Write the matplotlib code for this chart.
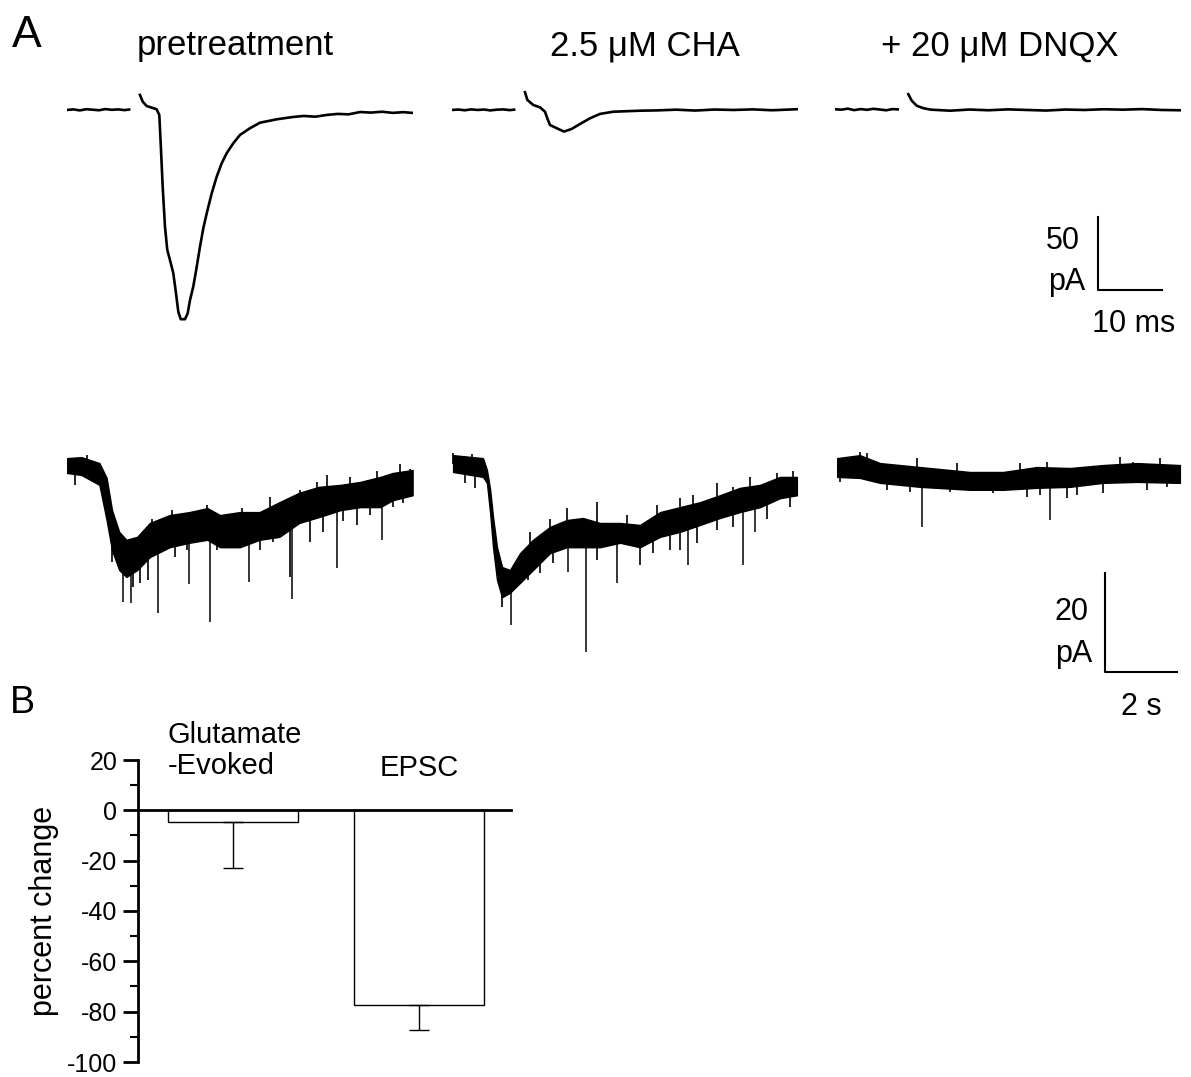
"""Panel A: evoked EPSCs and glutamate-evoked currents; panel B: percent change bars."""

import matplotlib

matplotlib.use("Agg", force=True)
import matplotlib.pyplot as plt
import numpy as np
from matplotlib.ticker import MultipleLocator

plt.rcParams["font.family"] = ["Liberation Sans", "DejaVu Sans"]
plt.rcParams["axes.unicode_minus"] = False

W, H = 1191, 1077

# ---- panel A, top row: evoked EPSCs (ms, pA) ----
titles = ["pretreatment", "2.5 \u03bcM CHA", "+ 20 \u03bcM DNQX"]

pre_base_t = [0, 1, 2, 3, 4, 5, 6, 7, 8, 9, 9.7]
pre_base_i = [0, 0.4, -0.3, 0.5, 0.2, -0.2, 0.6, 0.1, 0.4, -0.1, 0.3]
pre_evk_t = [11.4, 11.83, 12.45, 14.0, 14.42, 14.64, 14.95, 15.31, 15.67, 16.09, 16.61,
             17.03, 17.39, 17.77, 18.44, 18.86, 19.22, 19.73, 20.27, 20.78, 21.3,
             21.83, 22.61, 23.39, 24.17, 24.95, 25.98, 27.03, 28.59, 30.16, 32.77,
             35.3, 37.0, 38.8, 40.6, 42.3, 44.0, 45.8, 47.5, 49.2, 50.9, 52.5, 54.0]
pre_evk_i = [10.3, 5.7, 2.7, 0.5, -3.4, -22.8, -52.5, -80.0, -95.9, -102.8, -111.8,
             -125.5, -138.2, -143.3, -143.3, -139.2, -130.2, -121.0, -107.4, -93.6, -81.0,
             -70.8, -57.1, -45.7, -36.5, -29.6, -22.8, -17.1, -12.5, -8.7, -6.4,
             -4.8, -4.1, -4.6, -3.4, -2.7, -3.0, -1.4, -1.8, -1.2, -2.0, -1.5, -2.0]

cha_base_t = [0, 1, 2, 3, 4, 5, 6, 7, 8, 9, 9.7]
cha_base_i = [0, 0.3, -0.2, 0.4, 0, 0.3, -0.3, 0.2, 0.4, -0.1, 0.2]
cha_evk_t = [11.41, 11.77, 12.7, 13.75, 14.53, 14.89, 15.31, 16.36, 17.5, 18.7, 20.0,
             21.56, 23.13, 25.2, 29.4, 32, 35, 38, 41, 44, 47, 50, 53.9]
cha_evk_i = [12.1, 6.9, 3.4, 1.8, -1.2, -5.7, -10.3, -12.5, -14.8, -13.0, -9.6,
             -5.7, -2.7, -1.2, -0.5, -0.3, 0.2, -0.4, 0.3, 0, 0.4, -0.2, 0.5]

dnqx_base_t = [0, 1, 2, 3, 4, 5, 6, 7, 8, 9, 9.8]
dnqx_base_i = [0.5, 0.2, 0.9, -0.1, 0.6, 0.1, 0.8, 0.3, -0.2, 0.6, 0.4]
dnqx_evk_t = [11.45, 11.98, 12.77, 13.8, 15, 18, 21, 24, 27, 30, 33, 36, 39, 42, 45,
              48, 51, 53.9]
dnqx_evk_i = [10.8, 6.4, 2.9, 1.2, 0.2, -0.5, 0.3, -0.2, 0.4, 0, -0.4, 0.3, 0, 0.5,
              0.2, 0.6, 0, -0.2]

# ---- panel A, bottom row: glutamate-evoked currents (s, pA) ----
# noise band (upper / lower edge), large events, small up/down excursions
pre_glu_t = [0.0, 0.4, 0.9, 1.1, 1.25, 1.45, 1.65, 1.95, 2.3, 2.85, 3.4, 3.9, 4.25,
             4.8, 5.35, 5.9, 6.45, 7.0, 7.6, 8.15, 8.7, 9.05, 9.6]
pre_glu_hi = [2.4, 2.6, 1.4, -1.6, -8.1, -12.5, -14.1, -13.5, -10.7, -9.1, -8.5, -7.7,
              -9.1, -8.5, -8.5, -6.5, -4.6, -3.4, -3.0, -2.4, -1.4, -0.6, 0.0]
pre_glu_lo = [-0.6, -1.0, -3.0, -10.1, -16.2, -20.2, -21.6, -20.2, -17.6, -15.6, -14.7,
              -14.1, -15.6, -15.6, -14.1, -13.5, -10.7, -9.5, -8.1, -7.5, -7.5, -6.1, -5.1]
pre_spk_t = [1.56, 1.78, 2.53, 3.39, 3.97, 5.06, 6.25, 7.5, 8.75]
pre_spk_i = [-26.7, -26.9, -28.9, -23.0, -30.7, -22.6, -26.1, -19.8, -14.1]
pre_dn_t = [0.22, 1.24, 1.84, 2.03, 2.26, 2.58, 3.0, 3.32, 3.69, 4.16, 4.62, 4.85,
            5.36, 5.73, 6.19, 6.75, 7.12, 7.68, 8.05, 8.42, 9.06, 9.34]
pre_dn_i = [-3.0, -18.5, -23.6, -22.9, -22.2, -16.2, -17.5, -16.2, -14.1, -16.2, -15.5,
            -14.8, -16.2, -14.5, -21.6, -14.5, -12.5, -10.4, -11.1, -9.1, -7.4, -6.7]
pre_up_t = [0.55, 2.35, 2.91, 3.88, 4.85, 5.64, 6.19, 6.47, 6.94, 7.21, 7.86, 8.6,
            9.25, 9.53]
pre_up_i = [3.0, -9.8, -8.1, -7.1, -7.7, -5.4, -5.7, -4.0, -2.4, -1.0, -1.4, -0.3,
            1.2, 0.3]

cha_glu_t = [0.03, 0.86, 0.97, 1.06, 1.14, 1.25, 1.39, 1.61, 1.89, 2.25, 2.72, 3.19,
             3.64, 4.11, 4.67, 5.22, 5.78, 6.33, 6.89, 7.44, 8.0, 8.56, 9.11, 9.58]
cha_glu_hi = [3.0, 2.4, 0.0, -4.0, -9.5, -15.6, -19.6, -20.2, -16.8, -14.1, -11.5, -10.1,
              -9.7, -10.7, -10.7, -11.1, -8.5, -7.5, -6.5, -5.1, -3.6, -3.0, -1.4, -1.4]
cha_glu_lo = [-0.4, -1.4, -2.6, -8.7, -15.6, -22.2, -25.7, -24.8, -22.8, -20.2, -16.8,
              -15.6, -15.6, -15.6, -14.7, -15.6, -13.5, -12.5, -11.1, -9.7, -8.5, -7.5,
              -5.7, -5.1]
cha_spk_t = [1.64, 3.22, 3.72, 4.58, 6.56, 8.08, 8.42]
cha_spk_i = [-31.3, -20.6, -36.8, -22.8, -19.2, -19.2, -12.5]
cha_dn_t = [0.36, 0.64, 1.38, 1.8, 2.12, 2.44, 2.81, 4.02, 5.22, 5.59, 6.06, 6.33,
            6.8, 7.35, 7.81, 8.74, 9.39]
cha_dn_i = [-2.7, -3.7, -27.6, -23.6, -22.2, -20.9, -18.8, -18.2, -19.2, -16.8, -16.2,
            -16.2, -14.8, -12.1, -11.5, -9.8, -7.4]
cha_up_t = [0.04, 0.55, 2.17, 2.72, 3.19, 4.02, 4.85, 5.69, 6.33, 6.7, 7.35, 7.81,
            8.28, 9.02, 9.48]
cha_up_i = [3.4, 3.2, -12.5, -9.8, -7.7, -6.4, -9.1, -7.1, -5.7, -5.1, -2.7, -3.4,
            -1.4, -0.7, -0.3]

dnqx_glu_t = [0.06, 0.69, 1.25, 2.36, 3.75, 4.67, 5.61, 6.53, 7.44, 8.39, 9.58]
dnqx_glu_hi = [2.4, 3.0, 1.4, 0.6, -0.4, -0.4, 0.6, 0.4, 1.0, 1.4, 1.0]
dnqx_glu_lo = [-1.4, -1.6, -2.6, -3.4, -4.0, -4.0, -3.6, -3.4, -2.6, -2.4, -2.6]
dnqx_spk_t = [2.42, 5.97]
dnqx_spk_i = [-11.5, -10.1]
dnqx_dn_t = [0.14, 1.44, 2.08, 3.19, 4.4, 5.32, 5.69, 6.44, 6.71, 7.45, 8.66, 9.21]
dnqx_dn_i = [-2.4, -4.0, -4.4, -4.4, -4.7, -5.4, -5.1, -5.7, -5.1, -4.7, -4.0, -3.4]
dnqx_up_t = [0.69, 0.88, 2.27, 3.38, 5.14, 5.88, 7.92, 8.29, 9.03]
dnqx_up_i = [3.7, 3.4, 2.4, 1.4, 1.4, 1.7, 2.7, 1.7, 2.4]

# scale bars
top_bar_pa, top_bar_ms = 50, 10
bot_bar_pa, bot_bar_s = 20, 2

# ---- panel B ----
categories = ["Glutamate\n-Evoked", "EPSC"]
pct_change = [-4.7, -77.5]
pct_err = [18.3, 9.9]


def px_axes(fig, left, top, width, height):
    ax = fig.add_axes([left / W, 1 - (top + height) / H, width / W, height / H])
    ax.set_axis_off()
    return ax


def ftext(fig, x, y, s, **kw):
    fig.text(x / W, 1 - y / H, s, **kw)


fig = plt.figure(figsize=(W / 100, H / 100), dpi=100)

lefts = [67, 452, 835]
top_traces = [
    (pre_base_t, pre_base_i, pre_evk_t, pre_evk_i),
    (cha_base_t, cha_base_i, cha_evk_t, cha_evk_i),
    (dnqx_base_t, dnqx_base_i, dnqx_evk_t, dnqx_evk_i),
]
bot_traces = [
    (pre_glu_t, pre_glu_hi, pre_glu_lo, pre_spk_t, pre_spk_i,
     pre_dn_t, pre_dn_i, pre_up_t, pre_up_i),
    (cha_glu_t, cha_glu_hi, cha_glu_lo, cha_spk_t, cha_spk_i,
     cha_dn_t, cha_dn_i, cha_up_t, cha_up_i),
    (dnqx_glu_t, dnqx_glu_hi, dnqx_glu_lo, dnqx_spk_t, dnqx_spk_i,
     dnqx_dn_t, dnqx_dn_i, dnqx_up_t, dnqx_up_i),
]

top_axes, bot_axes = [], []
for left, (bt, bi, et, ei) in zip(lefts, top_traces):
    ax = px_axes(fig, left, 85, 345.6, 245)
    ax.set_xlim(0, 54)
    ax.set_ylim(-150.7, 17.1)
    ax.plot(bt, bi, color="black", lw=1.9)
    ax.plot(et, ei, color="black", lw=1.9)
    top_axes.append(ax)

for left, (t, hi, lo, st, si, dt, di, ut, ui) in zip(lefts, bot_traces):
    ax = px_axes(fig, left, 440, 345.6, 260)
    ax.set_xlim(0, 9.6)
    ax.set_ylim(-46.46, 6.06)
    ax.fill_between(t, lo, hi, color="black", lw=1.0, edgecolor="black")
    mid = (np.asarray(hi) + np.asarray(lo)) / 2
    st, dt, ut = np.asarray(st), np.asarray(dt), np.asarray(ut)
    ax.vlines(st, si, np.interp(st, t, lo), color="black", lw=1.1)
    ax.vlines(dt, di, np.interp(dt, t, mid), color="black", lw=1.2)
    ax.vlines(ut, np.interp(ut, t, mid), ui, color="black", lw=1.2)
    bot_axes.append(ax)

# scale bars on the right-hand axes
ax = top_axes[2]
x0, y0 = 41.1, -123.3
ax.plot([x0, x0, x0 + top_bar_ms], [y0 + top_bar_pa, y0, y0], color="black",
        lw=1.5, clip_on=False)
ax = bot_axes[2]
x0, y0 = 7.5, -40.8
ax.plot([x0, x0, x0 + bot_bar_s], [y0 + bot_bar_pa, y0, y0], color="black",
        lw=1.5, clip_on=False)

ftext(fig, 1080, 249, f"{top_bar_pa}", fontsize=22, ha="right", va="baseline")
ftext(fig, 1085, 290, "pA", fontsize=22, ha="right", va="baseline")
ftext(fig, 1134, 332, f"{top_bar_ms} ms", fontsize=22, ha="center", va="baseline")
ftext(fig, 1088, 620, f"{bot_bar_pa}", fontsize=22, ha="right", va="baseline")
ftext(fig, 1092, 662, "pA", fontsize=22, ha="right", va="baseline")
ftext(fig, 1141, 715, f"{bot_bar_s} s", fontsize=22, ha="center", va="baseline")

for cx, title in zip([235, 645, 1000], titles):
    ftext(fig, cx, 55, title, fontsize=25, ha="center", va="baseline")

ftext(fig, 12, 47, "A", fontsize=32, ha="left", va="baseline")
ftext(fig, 10, 713, "B", fontsize=27, ha="left", va="baseline")

# ---- panel B bar chart ----
axb = fig.add_axes([138 / W, 1 - 1062 / H, (513 - 138) / W, 302 / H])
xpos = np.arange(1, len(categories) + 1)
axb.bar(xpos, pct_change, width=0.7, color="white", edgecolor="black", lw=1.0, zorder=2)
axb.errorbar(xpos, pct_change, yerr=[pct_err, [0] * len(pct_err)], fmt="none",
             ecolor="black", elinewidth=1.0, capsize=7, capthick=1.0, zorder=3)
axb.axhline(0, color="black", lw=2.0, zorder=4)
axb.set_xlim(0.49, 2.505)
axb.set_ylim(-100, 20)
for side in ["top", "right", "bottom"]:
    axb.spines[side].set_visible(False)
axb.spines["left"].set_linewidth(2.0)
axb.set_xticks([])
axb.yaxis.set_major_locator(MultipleLocator(20))
axb.yaxis.set_minor_locator(MultipleLocator(10))
axb.tick_params(axis="y", which="major", length=11, width=2.0, labelsize=18, pad=4)
axb.tick_params(axis="y", which="minor", length=6, width=1.5)
axb.set_ylabel("percent change", fontsize=22)
axb.yaxis.set_label_coords(-0.21, 0.5)

axb.text(xpos[0] - 0.35, 23.9, categories[0], fontsize=21, ha="left", va="center",
         linespacing=1.15, clip_on=False)
axb.text(xpos[1], 16.85, categories[1], fontsize=21, ha="center", va="center",
         clip_on=False)

fig.savefig("out.png", dpi=100)
